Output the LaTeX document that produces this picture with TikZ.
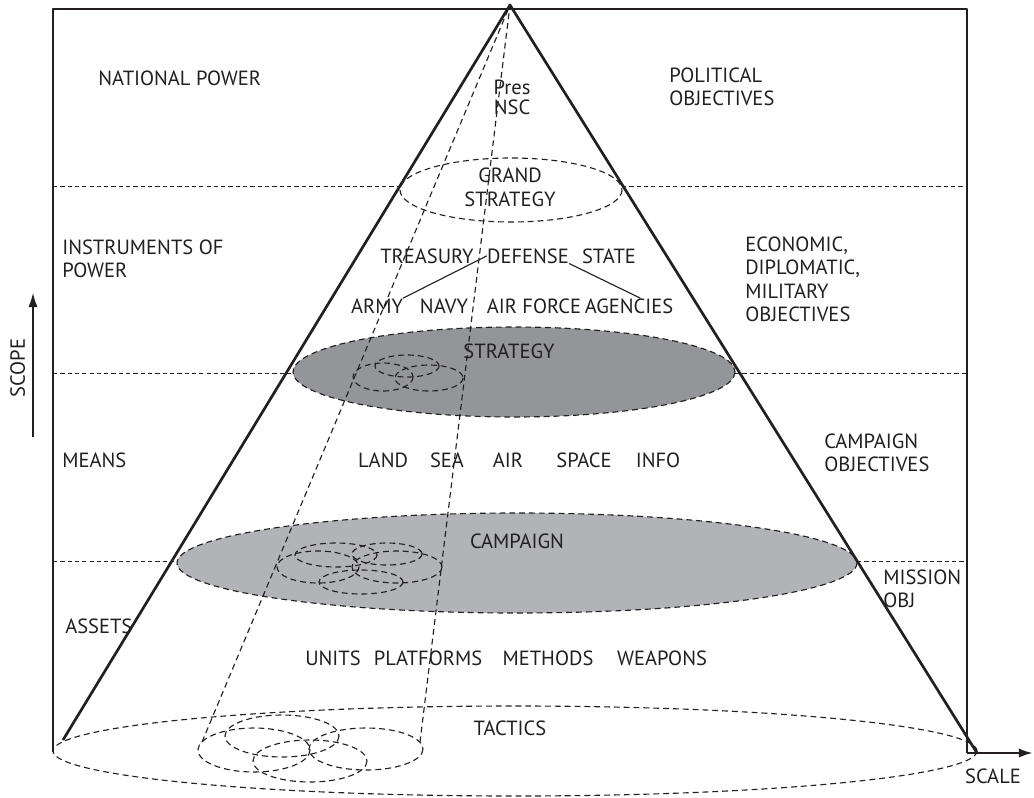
\documentclass[tikz,border=0pt]{standalone}
\usepackage{fontspec}
\setmainfont{PT Sans}
\usetikzlibrary{arrows.meta}
\definecolor{ink}{HTML}{231F20}
\definecolor{stratgray}{HTML}{939598}
\definecolor{campgray}{HTML}{B1B3B6}

\begin{document}
\begin{tikzpicture}[x=0.025cm, y=-0.025cm, line join=round,
	lb/.style={inner sep=0pt, text=ink, font=\fontsize{14.6}{16.4}\selectfont},
	lbb/.style={lb, anchor=base},
	lbw/.style={lb, anchor=north west, align=left},
	hl/.style={ink, line width=0.6pt, dash pattern=on 3pt off 2.2pt},
	dl/.style={ink, line width=0.8pt, dash pattern=on 4.2pt off 2.8pt},
	cone/.style={ink, line width=1.9pt},
	>={Latex[length=10pt,width=6.5pt]}
	]
	
	\useasboundingbox (0,0) rectangle (1034,797);
	
	\coordinate (apex) at (510,5);
	\coordinate (cl) at (63,740);
	\coordinate (cr) at (977,753);
	\coordinate (gs) at (511,190);
	\coordinate (st) at (514,372);
	\coordinate (cp) at (517,563);
	\coordinate (tc) at (515,751);
	
	% levels
	\foreach \yy/\xl/\xr in {186/400/622, 373/293/735, 561/178/857}{
		\draw[hl] (53,\yy) -- (\xl,\yy);
		\draw[hl] (\xr,\yy) -- (967,\yy);
	}
	
	% slices of the cone
	\draw[dl, fill=stratgray] (st) ellipse [x radius=221, y radius=45];
	\draw[dl, fill=campgray] (cp) ellipse [x radius=340, y radius=50];
	\draw[dl] (gs) ellipse [x radius=111, y radius=32];
	\draw[dl] (tc) ellipse [x radius=462, y radius=45];
	
	% small ones
	\draw[dl] (383,377) ellipse [x radius=30, y radius=14];
	\draw[dl] (407,366) ellipse [x radius=32, y radius=11];
	\draw[dl] (429,378) ellipse [x radius=34, y radius=13];
	
	\draw[dl] (318,567) ellipse [x radius=41, y radius=16];
	\draw[dl] (336,555) ellipse [x radius=41, y radius=12];
	\draw[dl] (387,554) ellipse [x radius=35, y radius=11];
	\draw[dl] (397,567) ellipse [x radius=45, y radius=16];
	\draw[dl] (361,582) ellipse [x radius=42, y radius=12];
	
	\draw[dl] (254,750) ellipse [x radius=56, y radius=22];
	\draw[dl] (282,736) ellipse [x radius=57, y radius=21];
	\draw[dl] (366,749) ellipse [x radius=57, y radius=21];
	\draw[dl] (310,761) ellipse [x radius=57, y radius=21];
	
	\coordinate (il) at (202,742);
	\coordinate (ir) at (420,742);
	\draw[dl] (il) -- (apex) -- (ir);
	
	\draw[cone] (cl) -- (apex) -- (cr);
	
	% frame and axes
	\coordinate (fbl) at (53,752);
	\coordinate (ftr) at (967,9);
	\coordinate (fbr) at (967,753);
	\coordinate (scaleend) at (1033,753);
	\draw[ink, line width=1.7pt] (fbl) |- (ftr) -- (fbr);
	\draw[ink, line width=1.7pt, ->] (fbr) -- (scaleend);
	\coordinate (scopelo) at (33,437);
	\coordinate (scopehi) at (33,293);
	\draw[ink, line width=0.8pt, ->] (scopelo) -- (scopehi);
	
	\node[lb, rotate=90, anchor=base] (scope) at (25,368) {SCOPE};
	\node[lbb] (scale) at (993,783) {SCALE};
	
	% left column
	\node[lb, anchor=base west] (natpow) at (98,85) {NATIONAL POWER};
	\node[lbw] (instr) at (62,240) {INSTRUMENTS OF\\POWER};
	\node[lb, anchor=base west] (means) at (62,467) {MEANS};
	\node[lb, anchor=base west] (assets) at (65,633) {ASSETS};
	
	% right column
	\node[lbw] (polobj) at (669,68) {POLITICAL\\OBJECTIVES};
	\node[lbw] (econ) at (745,237) {ECONOMIC,\\DIPLOMATIC,\\MILITARY\\OBJECTIVES};
	\node[lbw] (campobj) at (824,434) {CAMPAIGN\\OBJECTIVES};
	\node[lbw] (misobj) at (883,570) {MISSION\\OBJ};
	
	% inside the cone
	\node[lb, anchor=north, align=center] (pres) at (512,80) {Pres\\[-2.2pt]NSC};
	\node[lb, anchor=north, align=center] (grand) at (510,168) {GRAND\\[0.6pt]STRATEGY};
	
	\node[lbb] (treasury) at (427,263) {TREASURY};
	\node[lbb] (defense) at (528,263) {DEFENSE};
	\node[lbb] (state) at (609,263) {STATE};
	\node[lbb] (army) at (377,313) {ARMY};
	\node[lbb] (navy) at (444,313) {NAVY};
	\node[lbb] (airforce) at (534,313) {AIR FORCE};
	\node[lbb] (agencies) at (629,313) {AGENCIES};
	\draw[ink, line width=0.8pt] (defense.west) -- (army.north east);
	\draw[ink, line width=0.8pt] (defense.south east) -- ([xshift=8pt]agencies.north);
	
	\node[lbb] (strategy) at (509,358) {STRATEGY};
	
	\node[lbb] (land) at (383,467) {LAND};
	\node[lbb] (sea) at (447,467) {SEA};
	\node[lbb] (air) at (508,467) {AIR};
	\node[lbb] (space) at (584,467) {SPACE};
	\node[lbb] (info) at (658,467) {INFO};
	
	\node[lbb] (campaign) at (517,548) {CAMPAIGN};
	
	\node[lbb] (units) at (333,665) {UNITS};
	\node[lbb] (platforms) at (428,665) {PLATFORMS};
	\node[lbb] (methods) at (548,665) {METHODS};
	\node[lbb] (weapons) at (662,665) {WEAPONS};
	
	\node[lbb] (tactics) at (510,735) {TACTICS};
	
\end{tikzpicture}
\end{document}
